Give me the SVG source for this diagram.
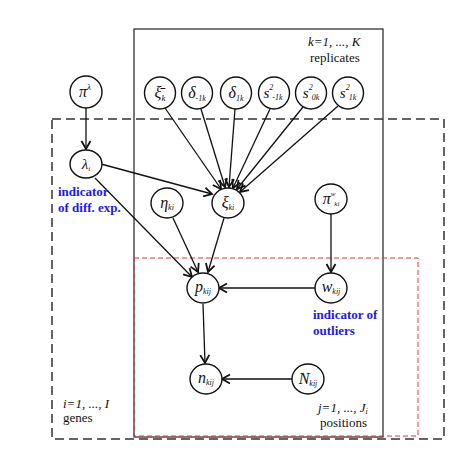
<svg xmlns="http://www.w3.org/2000/svg" width="474" height="466" viewBox="0 0 474 466">
<style>
.n{fill:#fff;stroke:#111;stroke-width:1.4}
.e{stroke:#111;stroke-width:1.3;fill:none;marker-end:url(#ah)}
.t{font-family:"Liberation Serif",serif;font-style:italic;fill:#111;text-anchor:middle}
.p{font-family:"Liberation Serif",serif;fill:#111;font-size:13px}
.b{font-family:"Liberation Serif",serif;font-weight:bold;fill:#1a1aee;font-size:13px}
</style>
<defs>
<marker id="ah" markerWidth="12" markerHeight="12" refX="10" refY="6" orient="auto" markerUnits="userSpaceOnUse">
<polyline points="2,1.5 10,6 2,10.5" fill="none" stroke="#111" stroke-width="1.8"/>
</marker>
</defs>
<rect width="474" height="466" fill="#fff"/>
<g id="plates">
<rect x="134" y="29" width="249" height="408" fill="none" stroke="#222" stroke-width="1.2"/>
<rect x="52" y="119" width="392" height="320" fill="none" stroke="#333" stroke-width="1.5" stroke-dasharray="9,5"/>
<rect x="134" y="258" width="284" height="178" fill="none" stroke="#e33" stroke-width="1" stroke-dasharray="5,3"/>
</g>
<g id="connectors">
<line class="e" x1="86" y1="108" x2="86" y2="149"/>
<line class="e" x1="101" y1="164" x2="212" y2="194"/>
<line class="e" x1="95" y1="178" x2="192" y2="277"/>
<line class="e" x1="165" y1="108" x2="221" y2="189"/>
<line class="e" x1="201" y1="109" x2="225" y2="187"/>
<line class="e" x1="235" y1="109" x2="229" y2="187"/>
<line class="e" x1="270" y1="109" x2="233" y2="188"/>
<line class="e" x1="303" y1="107" x2="237" y2="189"/>
<line class="e" x1="338" y1="106" x2="240" y2="192"/>
<line class="e" x1="173" y1="218" x2="198" y2="272"/>
<line class="e" x1="224" y1="218" x2="208" y2="272"/>
<line class="e" x1="331" y1="214" x2="331" y2="272"/>
<line class="e" x1="315" y1="288" x2="219" y2="288"/>
<line class="e" x1="203" y1="304" x2="205" y2="363"/>
<line class="e" x1="292" y1="379" x2="222" y2="379"/>
</g>
<g id="pi_lambda"><ellipse class="n" cx="86" cy="92" rx="16" ry="16"/><text class="t" x="85" y="97" font-size="16">π<tspan font-size="9" dy="-7">λ</tspan></text></g>
<g id="xibar_k"><ellipse class="n" cx="160" cy="93" rx="15.5" ry="16"/><text class="t" x="160" y="98" font-size="16">ξ̄<tspan font-size="9" dy="3">k</tspan></text></g>
<g id="delta_m1k"><ellipse class="n" cx="197" cy="93" rx="15.5" ry="16"/><text class="t" x="197" y="98" font-size="16">δ<tspan font-size="8" dy="3">-1k</tspan></text></g>
<g id="delta_1k"><ellipse class="n" cx="236" cy="93" rx="15.5" ry="16"/><text class="t" x="236" y="98" font-size="16">δ<tspan font-size="8" dy="3">1k</tspan></text></g>
<g id="s2_m1k"><ellipse class="n" cx="274" cy="93" rx="15.5" ry="16"/><text class="t" x="273" y="98" font-size="15">s<tspan font-size="8" dy="-8">2</tspan><tspan font-size="8" dx="-1" dy="10">-1k</tspan></text></g>
<g id="s2_0k"><ellipse class="n" cx="311" cy="93" rx="15.5" ry="16"/><text class="t" x="311" y="98" font-size="15">s<tspan font-size="8" dy="-8">2</tspan><tspan font-size="8" dx="-1" dy="10">0k</tspan></text></g>
<g id="s2_1k"><ellipse class="n" cx="348" cy="93" rx="15.5" ry="16"/><text class="t" x="348" y="98" font-size="15">s<tspan font-size="8" dy="-8">2</tspan><tspan font-size="8" dx="-1" dy="10">1k</tspan></text></g>
<g id="lambda_i"><ellipse class="n" cx="86" cy="164" rx="16" ry="14"/><text class="t" x="86" y="169" font-size="15">λ<tspan font-size="7" dy="2">i</tspan></text></g>
<g id="eta_ki"><ellipse class="n" cx="167" cy="203" rx="16" ry="15"/><text class="t" x="167" y="208" font-size="16">η<tspan font-size="8" dy="2">ki</tspan></text></g>
<g id="xi_ki"><ellipse class="n" cx="228" cy="203" rx="16" ry="15"/><text class="t" x="228" y="208" font-size="16">ξ<tspan font-size="8" dy="2">ki</tspan></text></g>
<g id="pi_w_ki"><ellipse class="n" cx="331" cy="199" rx="16" ry="15"/><text class="t" x="331" y="204" font-size="16">π<tspan font-size="7" dy="-8">w</tspan><tspan font-size="7" dx="-1" dy="10">ki</tspan></text></g>
<g id="p_kij"><ellipse class="n" cx="203" cy="288" rx="16" ry="15"/><text class="t" x="203" y="292" font-size="16">p<tspan font-size="8" dy="2">kij</tspan></text></g>
<g id="w_kij"><ellipse class="n" cx="331" cy="288" rx="16" ry="15"/><text class="t" x="331" y="292" font-size="16">w<tspan font-size="8" dy="2">kij</tspan></text></g>
<g id="n_kij"><ellipse class="n" cx="206" cy="379" rx="16" ry="15"/><text class="t" x="206" y="383" font-size="16">n<tspan font-size="8" dy="2">kij</tspan></text></g>
<g id="N_kij"><ellipse class="n" cx="308" cy="379" rx="16" ry="15"/><text class="t" x="308" y="384" font-size="16">N<tspan font-size="8" dy="2">kij</tspan></text></g>
<g id="labels">
<text class="p" x="308" y="46" font-style="italic">k=1, ..., K</text>
<text class="p" x="310" y="62">replicates</text>
<text class="b" x="58" y="196">indicator</text>
<text class="b" x="58" y="212">of diff. exp.</text>
<text class="b" x="313" y="319">indicator of</text>
<text class="b" x="313" y="335">outliers</text>
<text class="p" x="63" y="408" font-style="italic">i=1, ..., I</text>
<text class="p" x="63" y="422">genes</text>
<text class="p" x="318" y="412" font-style="italic">j=1, ..., J<tspan font-size="8" dy="2">i</tspan></text>
<text class="p" x="320" y="427">positions</text>
</g>
</svg>
